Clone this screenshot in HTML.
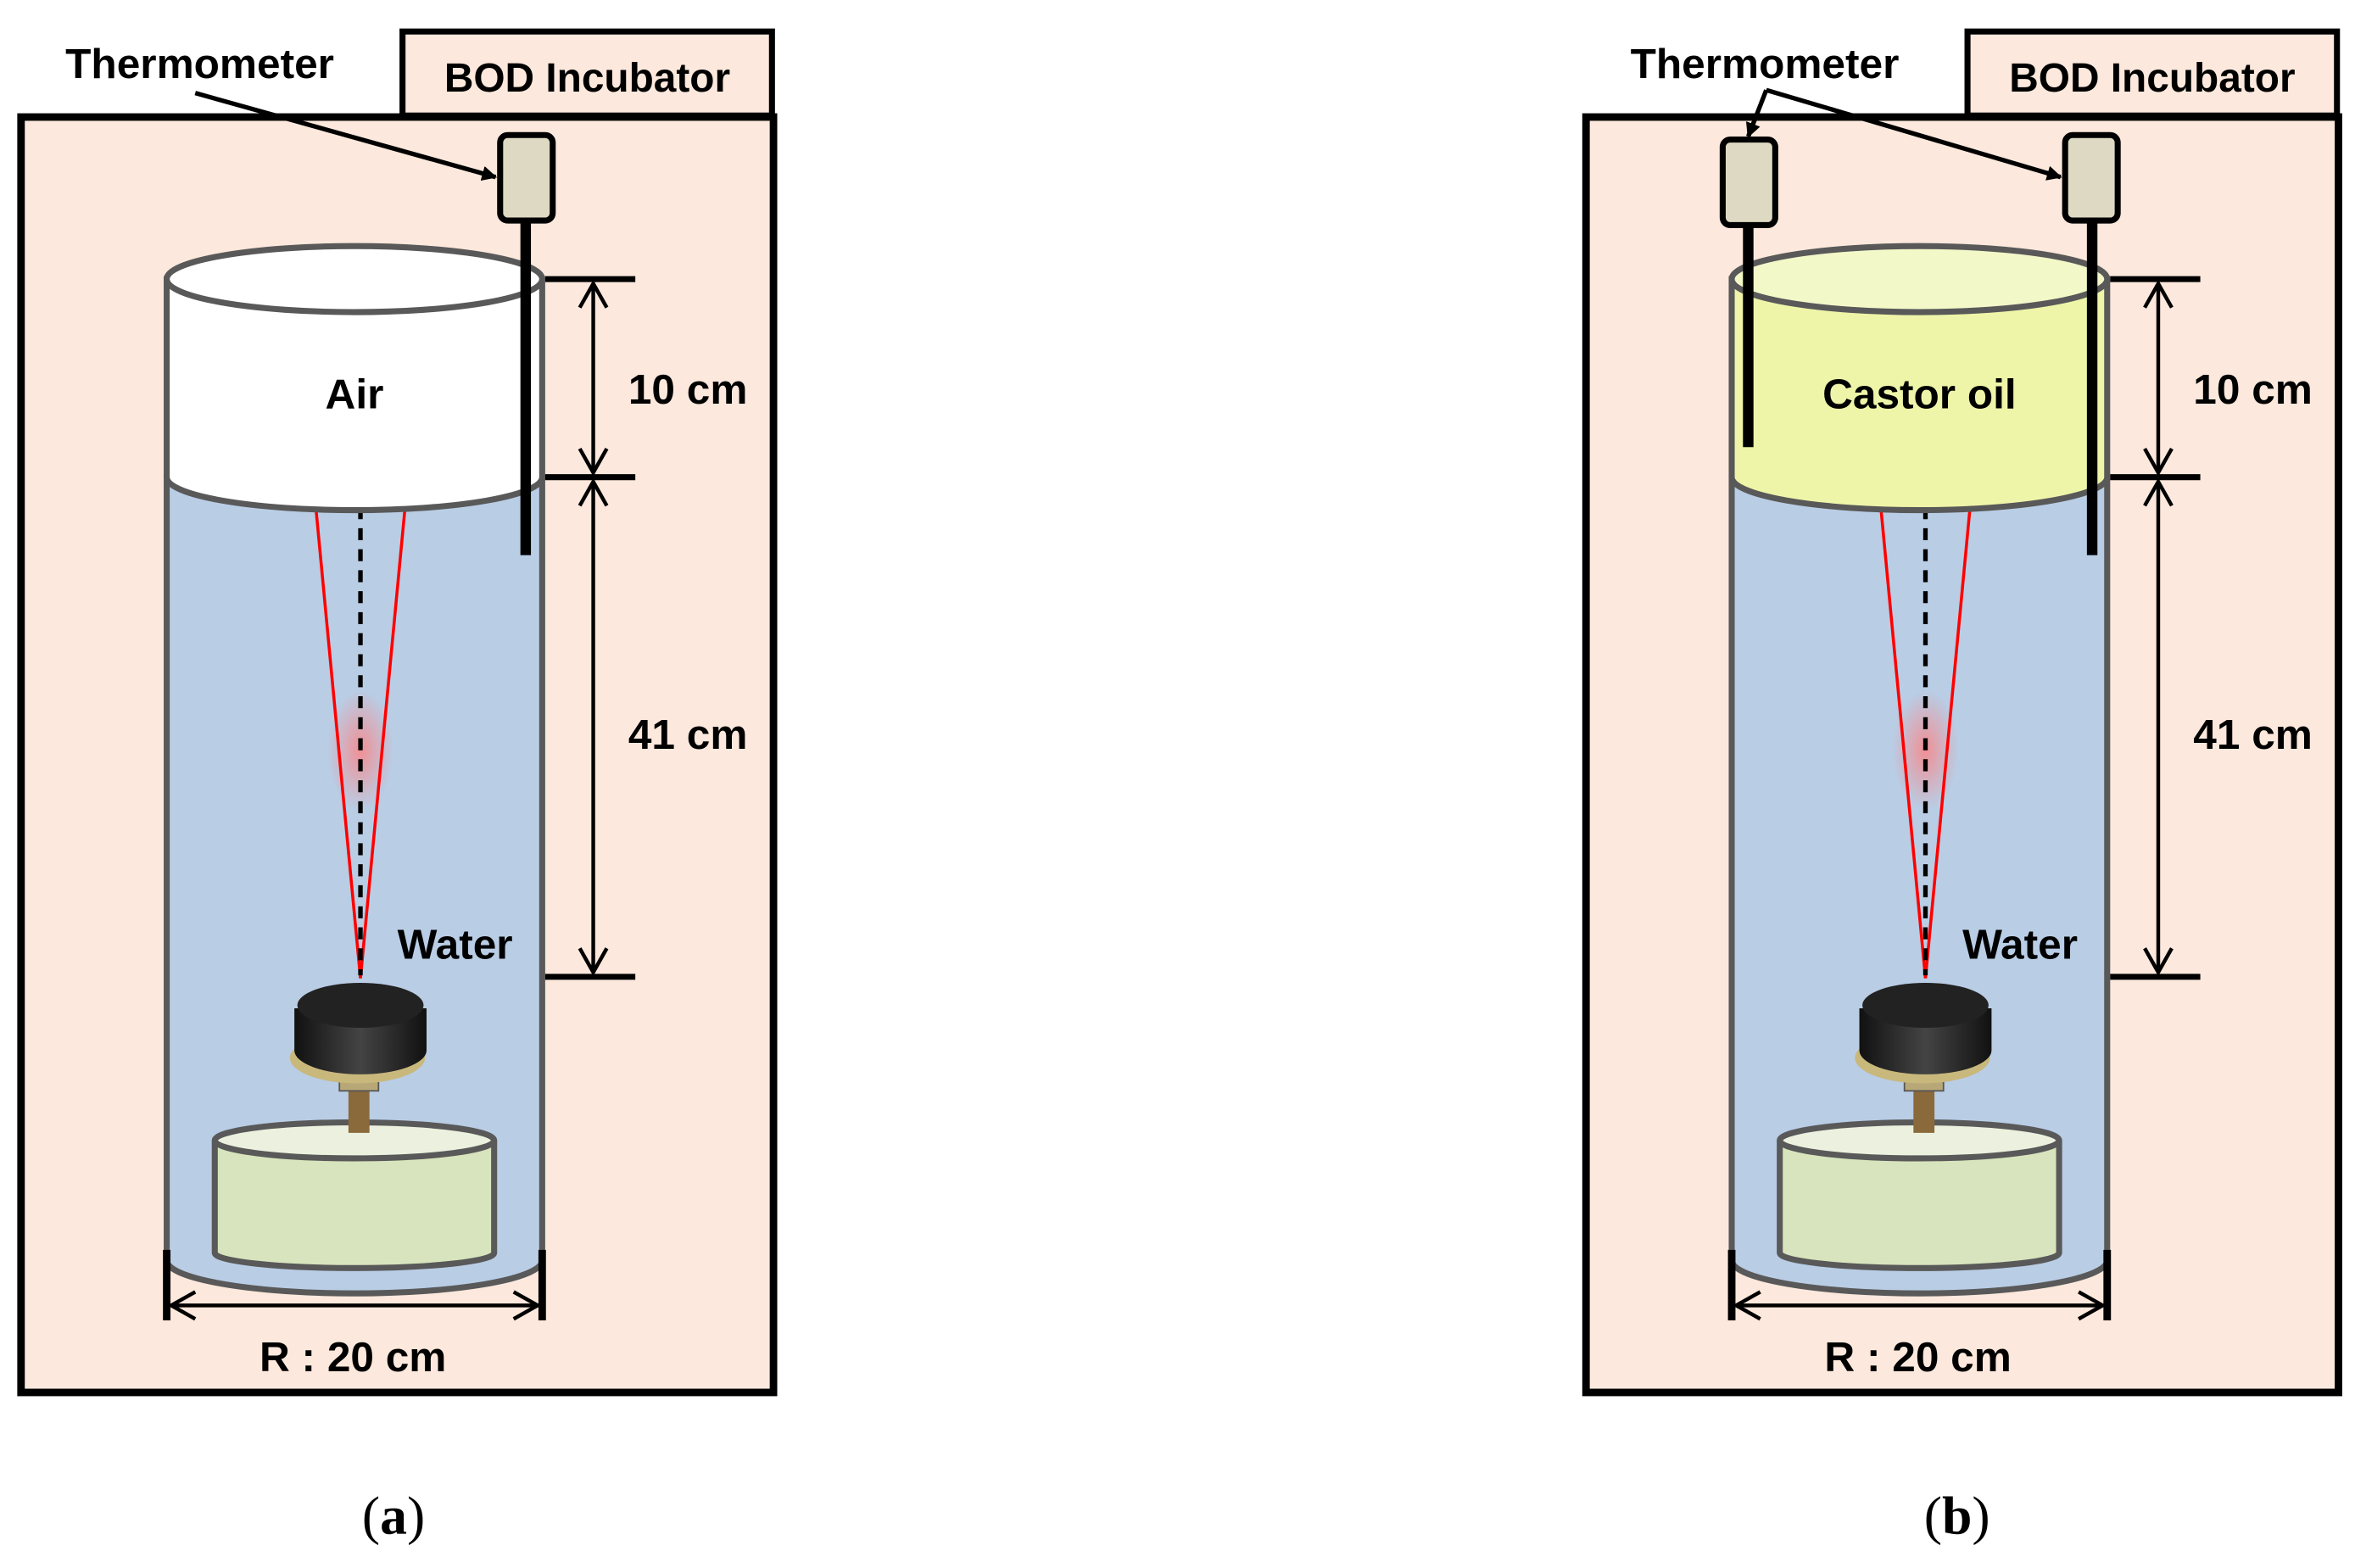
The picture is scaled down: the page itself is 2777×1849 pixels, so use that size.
<!DOCTYPE html>
<html><head><meta charset="utf-8"><style>html,body{margin:0;padding:0;background:#fff}svg{display:block}</style></head>
<body>
<svg width="2777" height="1849" viewBox="0 0 1568 1045" preserveAspectRatio="none" xmlns="http://www.w3.org/2000/svg" font-family="'Liberation Sans',sans-serif" font-weight="bold">
<defs>
<marker id="ah" markerWidth="10" markerHeight="10" refX="9" refY="5" orient="auto" markerUnits="userSpaceOnUse"><path d="M0,0 L10,5 L0,10 z" fill="#000"/></marker>
<marker id="oa" markerWidth="24" markerHeight="24" refX="20" refY="12" orient="auto-start-reverse" markerUnits="userSpaceOnUse"><path d="M4,3 L20,12 L4,21" fill="none" stroke="#000" stroke-width="2.5"/></marker>
<radialGradient id="glow" cx="0.5" cy="0.5" r="0.5"><stop offset="0" stop-color="#ff8080" stop-opacity="0.8"/><stop offset="1" stop-color="#ff8080" stop-opacity="0"/></radialGradient>
<linearGradient id="tr" x1="0" x2="1"><stop offset="0" stop-color="#111"/><stop offset="0.5" stop-color="#444"/><stop offset="1" stop-color="#111"/></linearGradient>
<g id="common">
  <path d="M111,318 L111,840 A125,22 0 0 0 361,840 L361,318 Z" fill="#b9cde5" stroke="#595959" stroke-width="4"/>
  <ellipse cx="240" cy="500" rx="22" ry="40" fill="url(#glow)"/>
  <line x1="240" y1="652" x2="210" y2="335" stroke="#ff0000" stroke-width="2"/>
  <line x1="240" y1="652" x2="270" y2="335" stroke="#ff0000" stroke-width="2"/>
  <line x1="240" y1="338" x2="240" y2="650" stroke="#000" stroke-width="3" stroke-dasharray="8,6"/>
  <path d="M143,760 L143,835 A92,10 0 0 0 329,835 L329,760" fill="#d7e4bd" stroke="#595959" stroke-width="4"/>
  <ellipse cx="236" cy="760" rx="93" ry="12" fill="#ebf1de" stroke="#595959" stroke-width="4"/>
  <rect x="232" y="715" width="14" height="40" fill="#8a6a3a"/>
  <rect x="226" y="705" width="26" height="22" fill="#b8a878" stroke="#555"/>
  <ellipse cx="238" cy="705" rx="45" ry="17" fill="#c9b87c"/>
  <path d="M196,672 L196,700 A44,16 0 0 0 284,700 L284,672 Z" fill="url(#tr)"/>
  <ellipse cx="240" cy="670" rx="42" ry="15" fill="#222"/>
  <line x1="363" y1="186" x2="423" y2="186" stroke="#000" stroke-width="4"/>
  <line x1="363" y1="318" x2="423" y2="318" stroke="#000" stroke-width="4"/>
  <line x1="363" y1="651" x2="423" y2="651" stroke="#000" stroke-width="4"/>
  <line x1="395" y1="189" x2="395" y2="315" stroke="#000" stroke-width="2.5" marker-start="url(#oa)" marker-end="url(#oa)"/>
  <line x1="395" y1="321" x2="395" y2="648" stroke="#000" stroke-width="2.5" marker-start="url(#oa)" marker-end="url(#oa)"/>
  <text x="458" y="269" font-size="28" text-anchor="middle">10 cm</text>
  <text x="458" y="499" font-size="28" text-anchor="middle">41 cm</text>
  <text x="303" y="639" font-size="28" text-anchor="middle">Water</text>
  <line x1="111" y1="833" x2="111" y2="880" stroke="#000" stroke-width="5"/>
  <line x1="361" y1="833" x2="361" y2="880" stroke="#000" stroke-width="5"/>
  <line x1="114" y1="870" x2="358" y2="870" stroke="#000" stroke-width="2.5" marker-start="url(#oa)" marker-end="url(#oa)"/>
  <text x="235" y="914" font-size="28" text-anchor="middle">R : 20 cm</text>
  <rect x="268" y="21" width="246" height="56" fill="#fce8dc" stroke="#000" stroke-width="4"/>
  <text x="391" y="61" font-size="27" text-anchor="middle">BOD Incubator</text>
  <text x="133" y="52" font-size="28" text-anchor="middle">Thermometer</text>
</g>
</defs>

<rect x="14" y="78" width="501" height="850" fill="#fce8dc" stroke="#000" stroke-width="5"/>
<use href="#common"/>
<path d="M111,186 L111,318 A125,22 0 0 0 361,318 L361,186 Z" fill="#fff" stroke="#595959" stroke-width="4"/>
<ellipse cx="236" cy="186" rx="125" ry="22" fill="#fff" stroke="#595959" stroke-width="4"/>
<text x="236" y="272" font-size="28" text-anchor="middle">Air</text>
<line x1="350" y1="147" x2="350" y2="370" stroke="#000" stroke-width="7"/>
<rect x="333" y="90" width="35" height="57" rx="5" fill="#ddd9c3" stroke="#000" stroke-width="4"/>
<line x1="130" y1="62" x2="330" y2="118" stroke="#000" stroke-width="3" marker-end="url(#ah)"/>

<g transform="translate(1042,0)">
<rect x="14" y="78" width="501" height="850" fill="#fce8dc" stroke="#000" stroke-width="5"/>
<use href="#common"/>
<path d="M111,186 L111,318 A125,22 0 0 0 361,318 L361,186 Z" fill="#eef5a8" stroke="#595959" stroke-width="4"/>
<ellipse cx="236" cy="186" rx="125" ry="22" fill="#f2f8c8" stroke="#595959" stroke-width="4"/>
<text x="236" y="272" font-size="28" text-anchor="middle">Castor oil</text>
<line x1="351" y1="147" x2="351" y2="370" stroke="#000" stroke-width="7"/>
<rect x="333" y="90" width="35" height="57" rx="5" fill="#ddd9c3" stroke="#000" stroke-width="4"/>
<line x1="122" y1="150" x2="122" y2="298" stroke="#000" stroke-width="7"/>
<rect x="105" y="93" width="35" height="57" rx="5" fill="#ddd9c3" stroke="#000" stroke-width="4"/>
<line x1="134" y1="60" x2="330" y2="118" stroke="#000" stroke-width="3" marker-end="url(#ah)"/>
<line x1="134" y1="60" x2="122" y2="91" stroke="#000" stroke-width="3" marker-end="url(#ah)"/>
</g>

<text x="262" y="1022" font-size="36" font-weight="normal" font-family="'Liberation Serif',serif" text-anchor="middle">(<tspan font-weight="bold">a</tspan>)</text>
<text x="1303" y="1022" font-size="36" font-weight="normal" font-family="'Liberation Serif',serif" text-anchor="middle">(<tspan font-weight="bold">b</tspan>)</text>
</svg>
</body></html>
